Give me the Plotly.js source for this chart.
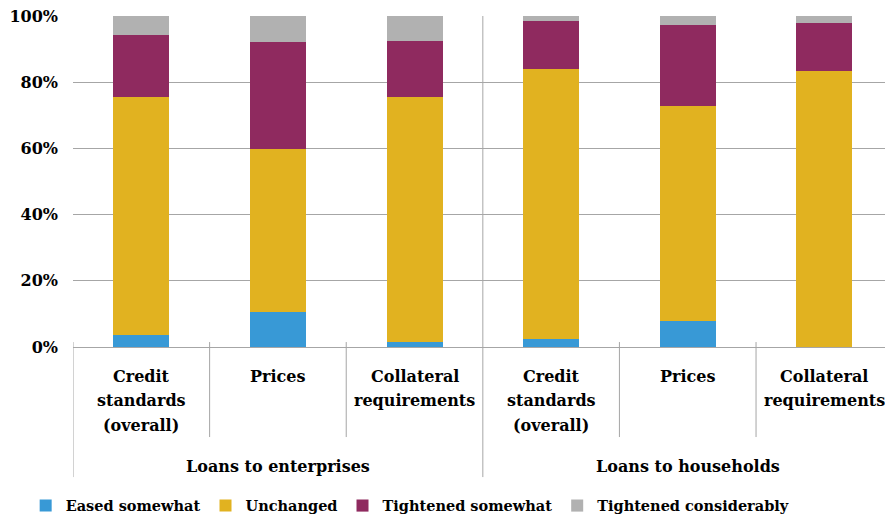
<!DOCTYPE html>
<html>
<head>
<meta charset="utf-8">
<script src="https://cdn.plot.ly/plotly-3.0.1.min.js"></script>
<style>html,body{margin:0;padding:0;background:#fff;}#chart{width:885px;height:516px;}</style>
</head>
<body>
<div id="chart"></div>
<script>
// ---- data ----
var groups = ["Loans to enterprises", "Loans to enterprises", "Loans to enterprises",
              "Loans to households", "Loans to households", "Loans to households"];
var categories = ["Credit<br>standards<br>(overall)", "Prices", "Collateral<br>requirements",
                  "Credit<br>standards<br>(overall)", "Prices", "Collateral<br>requirements"];
var easedSomewhat       = [3.6, 10.6, 1.5, 2.4, 7.9, 0.0];
var unchanged           = [71.9, 49.2, 74.0, 81.6, 64.9, 83.4];
var tightenedSomewhat   = [18.8, 32.3, 16.9, 14.5, 24.5, 14.5];
var tightenedConsiderably = [5.7, 7.9, 7.6, 1.5, 2.7, 2.1];
var yTickVals = [0, 20, 40, 60, 80, 100];
var yTickText = ["0%", "20%", "40%", "60%", "80%", "100%"];

var FONT = "DejaVu Serif";
var xIdx = categories.map(function (c, i) { return i; });

function mk(name, vals, color) {
  return {type: "bar", name: name, x: xIdx, y: vals,
          marker: {color: color, line: {width: 0}}, hoverinfo: "skip"};
}
var data = [
  mk("Eased somewhat", easedSomewhat, "#3899d6"),
  mk("Unchanged", unchanged, "#e1b220"),
  mk("Tightened somewhat", tightenedSomewhat, "#8f2a5f"),
  mk("Tightened considerably", tightenedConsiderably, "#b1b1b1")
];

var labelFont = {family: FONT, size: 16, color: "#000", weight: "bold"};

// separator lines at category boundaries
var shapes = [];
var annotations = [];
var n = categories.length;
for (var i = 0; i <= n; i++) {
  var b = i - 0.5;
  var isGroup = (i === 0 || i === n || groups[i] !== groups[i - 1]);
  shapes.push({type: "line", xref: "x", yref: "paper", x0: b, x1: b,
               y0: (isGroup && i > 0) ? 1 : 0.015,
               y1: isGroup ? -0.393 : -0.272,
               line: {color: "#a6a6a6", width: 1}, layer: "above"});
}
// category labels (one annotation per text line, for the wider line spacing)
categories.forEach(function (c, i) {
  c.split("<br>").forEach(function (line, k) {
    annotations.push({xref: "x", yref: "paper", x: i, y: 0, yanchor: "middle",
                      xanchor: "center", yshift: -(29 + 24.5 * k), showarrow: false,
                      text: line, font: labelFont});
  });
});
// group labels
var start = 0;
for (var j = 1; j <= n; j++) {
  if (j === n || groups[j] !== groups[start]) {
    annotations.push({xref: "x", yref: "paper", x: (start + j - 1) / 2, y: 0,
                      yshift: -119, xanchor: "center", yanchor: "middle", showarrow: false,
                      text: groups[start], font: labelFont});
    start = j;
  }
}

var layout = {
  width: 885, height: 516,
  margin: {l: 73, r: 0, t: 16, b: 169, pad: 0},
  paper_bgcolor: "#ffffff", plot_bgcolor: "#ffffff",
  barmode: "stack", bargap: 0.59,
  showlegend: true,
  legend: {orientation: "h", x: 0.029, xref: "container", xanchor: "left",
           y: 0.02, yref: "container", yanchor: "middle",
           font: {family: FONT, size: 14.5, color: "#000", weight: "bold"},
           traceorder: "normal", itemwidth: 30, tracegroupgap: 0, itemclick: false},
  font: {family: FONT, color: "#000"},
  xaxis: {type: "linear", range: [-0.5, 5.444], tickvals: xIdx, showticklabels: false,
          ticks: "", showgrid: false, zeroline: false, showline: false,
          automargin: false, fixedrange: true},
  yaxis: {range: [0, 100], tickvals: yTickVals, ticktext: yTickText,
          showgrid: true, gridcolor: "#a6a6a6", gridwidth: 1,
          zeroline: true, zerolinecolor: "#a6a6a6", zerolinewidth: 1,
          showline: false, ticks: "", ticklabelstandoff: 14, automargin: false,
          tickfont: {family: FONT, size: 16, color: "#000", weight: "bold"},
          fixedrange: true},
  shapes: shapes,
  annotations: annotations
};
Plotly.newPlot("chart", data, layout, {displayModeBar: false, staticPlot: true});
</script>
</body>
</html>
